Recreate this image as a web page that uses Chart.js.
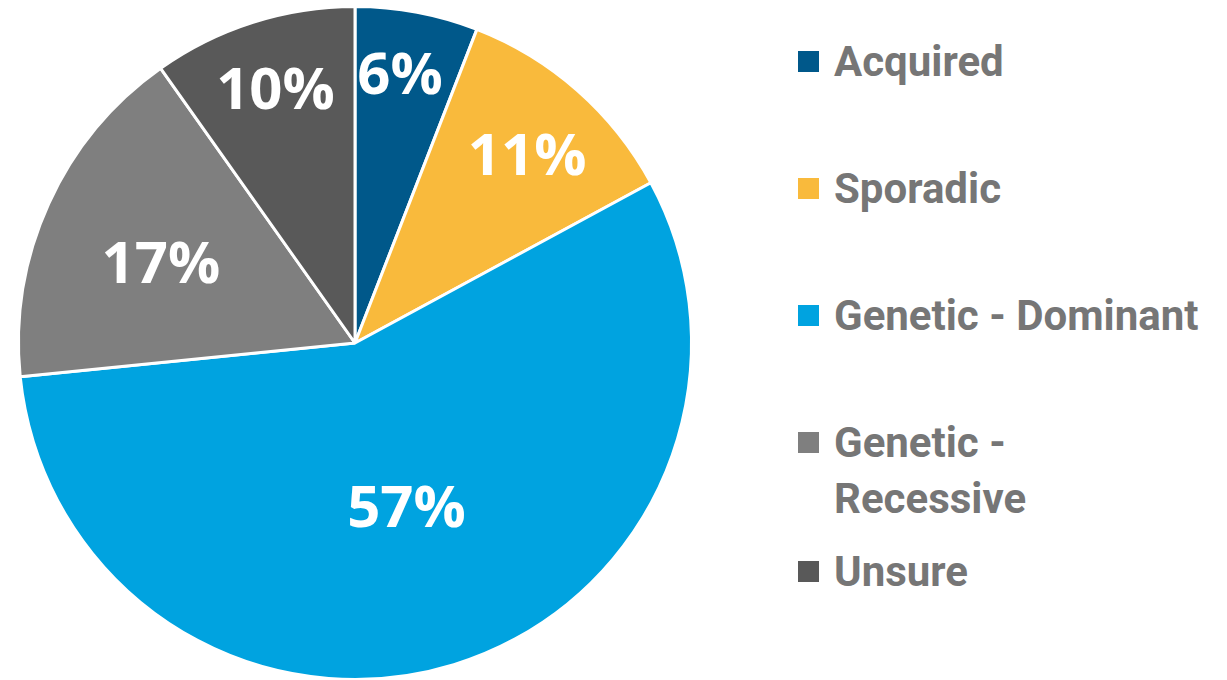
<!DOCTYPE html>
<html>
<head>
<meta charset="utf-8">
<script src="https://cdn.jsdelivr.net/npm/chart.js@4/dist/chart.umd.min.js"></script>
<style>
  html, body { margin: 0; padding: 0; background: #ffffff; overflow: hidden; }
  #wrap { position: relative; width: 1227px; height: 680px; }
  #chartBox { position: absolute; left: 0; top: 0; width: 710px; height: 686px; }
  #legend { position: absolute; left: 798px; top: 0; font-family: Roboto, sans-serif; font-weight: bold; font-size: 42px; color: #767676; }
  .item { position: absolute; left: 0; display: flex; align-items: flex-start; white-space: nowrap; }
  .sw { width: 21px; height: 21px; margin-top: 17px; margin-right: 15px; flex: none; }
  .txt { line-height: 56px; }
</style>
</head>
<body>
<div id="wrap">
  <div id="chartBox"><canvas id="c"></canvas></div>
  <div id="legend"></div>
</div>
<script>
const categories = ["Acquired", "Sporadic", "Genetic - Dominant", "Genetic - Recessive", "Unsure"];
const values = [5.9, 11.2, 56.3, 16.8, 9.8];
const valueLabels = ["6%", "11%", "57%", "17%", "10%"];
const colors = ["#00588A", "#F9BA3C", "#00A3E0", "#7F7F7F", "#595959"];
const legendLines = [["Acquired"], ["Sporadic"], ["Genetic - Dominant"], ["Genetic -", "Recessive"], ["Unsure"]];

const labelRadius = [0.80, 0.75, 0.52, 0.62, 0.78];
const labelAngleShiftDeg = [-1, 1.6, 0, -3, 0];

const sliceLabels = {
  id: 'sliceLabels',
  afterDatasetsDraw(chart) {
    const ctx = chart.ctx;
    const meta = chart.getDatasetMeta(0);
    ctx.save();
    ctx.fillStyle = '#ffffff';
    ctx.font = 'bold 58px "Open Sans", sans-serif';
    ctx.textAlign = 'center';
    ctx.textBaseline = 'middle';
    meta.data.forEach((arc, i) => {
      const p = arc.getProps(['x', 'y', 'startAngle', 'endAngle', 'outerRadius'], true);
      const mid = (p.startAngle + p.endAngle) / 2 + labelAngleShiftDeg[i] * Math.PI / 180;
      const r = p.outerRadius * labelRadius[i];
      ctx.fillText(valueLabels[i], p.x + Math.cos(mid) * r, p.y + Math.sin(mid) * r);
    });
    ctx.restore();
  }
};

new Chart(document.getElementById('c'), {
  type: 'pie',
  data: {
    labels: categories,
    datasets: [{
      data: values,
      backgroundColor: colors,
      borderColor: '#ffffff',
      borderWidth: 3
    }]
  },
  options: {
    responsive: true,
    maintainAspectRatio: false,
    animation: false,
    layout: { padding: { top: 5, bottom: 5, left: 0, right: 0 } },
    plugins: {
      legend: { display: false },
      tooltip: { enabled: false }
    }
  },
  plugins: [sliceLabels]
});

const legendTops = [61, 188, 315, 442, 571];
const legend = document.getElementById('legend');
categories.forEach((c, i) => {
  const item = document.createElement('div');
  item.className = 'item';
  item.style.top = (legendTops[i] - 27) + 'px';
  const sw = document.createElement('div');
  sw.className = 'sw';
  sw.style.background = colors[i];
  const t = document.createElement('div');
  t.className = 'txt';
  t.innerHTML = legendLines[i].join('<br>');
  item.appendChild(sw);
  item.appendChild(t);
  legend.appendChild(item);
});
</script>
</body>
</html>
